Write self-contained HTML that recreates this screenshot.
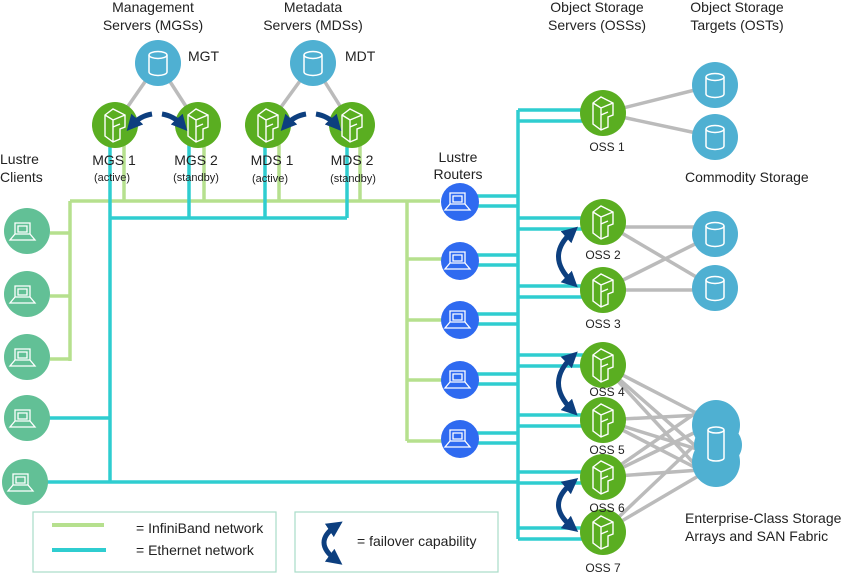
<!DOCTYPE html>
<html><head><meta charset="utf-8"><style>
body{margin:0;background:#fff}
svg{display:block}
text{font-family:"Liberation Sans",sans-serif;fill:#222}
</style></head><body>
<svg width="860" height="574" viewBox="0 0 860 574" xmlns="http://www.w3.org/2000/svg">
<defs>
<marker id="ah" viewBox="0 0 10 10" refX="5" refY="5" markerWidth="3.2" markerHeight="3.2" orient="auto-start-reverse"><path d="M0,0 L10,5 L0,10 z" fill="#0d3f7f"/></marker>
<g id="srv"><circle r="23" fill="#5aae21"/><path d="M-10,-10 L-2,-16 L10,-10 L10,2 L5,4 L5,14 L-2,17 L-10,11 Z M-10,-10 L-2,-5 L10,-10 M-2,-5 L-2,17 M-2,2 L5,-1" fill="none" stroke="#fff" stroke-width="1.4"/></g>
<g id="cyl"><circle r="23" fill="#4fb0d2"/><path d="M-9,-8 L-9,9 A9,3.5 0 0 0 9,9 L9,-8" fill="none" stroke="#fff" stroke-width="1.5"/><ellipse cx="0" cy="-8" rx="9" ry="3.5" fill="none" stroke="#fff" stroke-width="1.5"/></g>
<g id="lap"><path d="M-12,-8 h15 v11 h-15 z M-9,-5 h9 v6 h-9 z M-12,3 l-5,6 h25 l-5,-6" fill="none" stroke="#fff" stroke-width="1.3"/></g>
</defs>

<g font-size="14" text-anchor="middle">
<text x="153" y="12">Management</text><text x="153" y="30">Servers (MGSs)</text>
<text x="313" y="12">Metadata</text><text x="313" y="30">Servers (MDSs)</text>
<text x="597" y="12">Object Storage</text><text x="597" y="30">Servers (OSSs)</text>
<text x="737" y="12">Object Storage</text><text x="737" y="30">Targets (OSTs)</text>
<text x="458" y="162">Lustre</text><text x="458" y="179">Routers</text>
</g>
<text x="0" y="164" font-size="14">Lustre</text><text x="0" y="182" font-size="14">Clients</text>
<text x="188" y="61" font-size="14">MGT</text><text x="345" y="61" font-size="14">MDT</text>
<text x="685" y="182" font-size="14">Commodity Storage</text>
<text x="685" y="523" font-size="14">Enterprise-Class Storage</text>
<text x="685" y="541" font-size="14">Arrays and SAN Fabric</text>

<g stroke="#bbb" stroke-width="3.5">
<line x1="158" y1="63" x2="115" y2="125"/><line x1="158" y1="63" x2="198" y2="125"/>
<line x1="313" y1="63" x2="268" y2="125"/><line x1="313" y1="63" x2="352" y2="125"/>
<line x1="603" y1="113" x2="715" y2="85"/><line x1="603" y1="113" x2="715" y2="137"/>
<line x1="603" y1="227" x2="715" y2="227"/><line x1="603" y1="222" x2="715" y2="288"/>
<line x1="603" y1="290" x2="715" y2="234"/><line x1="603" y1="290" x2="715" y2="290"/>
<line x1="603" y1="365" x2="700" y2="415"/><line x1="603" y1="365" x2="700" y2="450"/><line x1="603" y1="365" x2="700" y2="470"/>
<line x1="603" y1="420" x2="700" y2="415"/><line x1="603" y1="420" x2="700" y2="450"/><line x1="603" y1="420" x2="700" y2="470"/>
<line x1="603" y1="477" x2="700" y2="430"/><line x1="603" y1="477" x2="700" y2="470"/><line x1="603" y1="477" x2="700" y2="410"/>
<line x1="603" y1="532" x2="700" y2="440"/><line x1="603" y1="532" x2="700" y2="475"/>
</g>

<g stroke="#b6e08e" stroke-width="3.5" fill="none">
<path d="M70,201 H440"/><path d="M70,201 V361"/>
<path d="M50,233 H70 M50,296 H70 M50,359 H70"/>
<path d="M124,140 V201 M204,140 V201 M279,140 V201 M360,140 V201"/>
<path d="M407,201 V441 M407,259 H442 M407,320 H442 M407,380 H442 M407,441 H442"/>
</g>
<g stroke="#2fcdd0" stroke-width="3.5" fill="none">
<path d="M110,140 V482 M189,140 V218 M265,140 V218 M347,140 V218 M110,218 H347"/>
<path d="M48,418 H110 M45,482 H518"/>
<path d="M518,110 V539"/>
<path d="M470,196 H518 M470,206 H518 M470,255 H518 M470,265 H518 M470,314 H518 M470,324 H518 M470,374 H518 M470,384 H518 M470,433 H518 M470,443 H518"/>
<path d="M518,110 H585 M518,121 H585 M518,218 H585 M518,229 H585 M518,286 H585 M518,297 H585 M518,355 H585 M518,366 H585 M518,415 H585 M518,426 H585 M518,472 H585 M518,483 H585 M518,528 H585 M518,539 H585"/>
</g>

<g fill="#62c096">
<circle cx="27" cy="231" r="23"/><circle cx="27" cy="294" r="23"/><circle cx="27" cy="357" r="23"/><circle cx="27" cy="418" r="23"/><circle cx="25" cy="482" r="23"/>
</g>
<use href="#lap" x="27" y="231"/><use href="#lap" x="27" y="294"/><use href="#lap" x="27" y="357"/><use href="#lap" x="27" y="418"/><use href="#lap" x="25" y="482"/>
<g fill="#2f6af0">
<circle cx="460" cy="202" r="19"/><circle cx="460" cy="261" r="19"/><circle cx="460" cy="320" r="19"/><circle cx="460" cy="380" r="19"/><circle cx="460" cy="439" r="19"/>
</g>
<use href="#lap" x="462" y="201"/><use href="#lap" x="462" y="260"/><use href="#lap" x="462" y="319"/><use href="#lap" x="462" y="379"/><use href="#lap" x="462" y="438"/>

<use href="#cyl" x="158" y="63"/><use href="#cyl" x="313" y="63"/>
<use href="#cyl" x="715" y="85"/><use href="#cyl" x="715" y="137"/><use href="#cyl" x="715" y="234"/><use href="#cyl" x="715" y="288"/>
<g fill="#4fb0d2"><ellipse cx="716" cy="425" rx="24" ry="25"/><ellipse cx="718" cy="445" rx="24" ry="22"/><ellipse cx="716" cy="462" rx="24" ry="25"/></g>
<path d="M708,430 L708,458 A8,3 0 0 0 724,458 L724,430" fill="none" stroke="#fff" stroke-width="1.5"/><ellipse cx="716" cy="430" rx="8" ry="3" fill="none" stroke="#fff" stroke-width="1.5"/>

<use href="#srv" x="115" y="125"/><use href="#srv" x="198" y="125"/><use href="#srv" x="268" y="125"/><use href="#srv" x="352" y="125"/>
<use href="#srv" x="603" y="113"/><use href="#srv" x="603" y="222"/><use href="#srv" x="603" y="290"/><use href="#srv" x="603" y="365"/><use href="#srv" x="603" y="420"/><use href="#srv" x="603" y="477"/><use href="#srv" x="603" y="532"/>

<g stroke="#0d3f7f" stroke-width="5" fill="none" marker-end="url(#ah)">
<path d="M152,114 Q140,116 132,125"/><path d="M162,114 Q174,116 182,125"/>
<path d="M306,114 Q294,116 286,125"/><path d="M316,114 Q328,116 336,125"/>
</g>
<g stroke="#0d3f7f" stroke-width="5" fill="none" marker-start="url(#ah)" marker-end="url(#ah)">
<path d="M572,232 Q545,256 572,282"/>
<path d="M572,357 Q545,383 572,410"/>
<path d="M572,483 Q545,505 572,527"/>
</g>

<g font-size="14" text-anchor="middle">
<text x="114" y="165">MGS 1</text><text x="196" y="165">MGS 2</text><text x="272" y="165">MDS 1</text><text x="352" y="165">MDS 2</text>
</g>
<g font-size="11" text-anchor="middle">
<text x="112" y="181">(active)</text><text x="196" y="181">(standby)</text><text x="270" y="182">(active)</text><text x="353" y="182">(standby)</text>
</g>
<g font-size="12" text-anchor="middle">
<text x="607" y="151">OSS 1</text><text x="603" y="259">OSS 2</text><text x="603" y="328">OSS 3</text><text x="607" y="396">OSS 4</text><text x="607" y="454">OSS 5</text><text x="607" y="512">OSS 6</text><text x="603" y="572">OSS 7</text>
</g>

<rect x="33" y="512" width="243" height="60" fill="none" stroke="#a8dcc8" stroke-width="1.2"/>
<rect x="295" y="512" width="203" height="60" fill="none" stroke="#a8dcc8" stroke-width="1.2"/>
<line x1="52" y1="525" x2="104" y2="525" stroke="#b6e08e" stroke-width="4"/>
<line x1="52" y1="550" x2="106" y2="550" stroke="#2fcdd0" stroke-width="4"/>
<text x="136" y="533" font-size="14">= InfiniBand network</text>
<text x="136" y="555" font-size="14">= Ethernet network</text>
<path d="M336,526 Q312,542 336,560" stroke="#0d3f7f" stroke-width="5" fill="none" marker-start="url(#ah)" marker-end="url(#ah)"/>
<text x="357" y="546" font-size="14">= failover capability</text>
</svg>
</body></html>
